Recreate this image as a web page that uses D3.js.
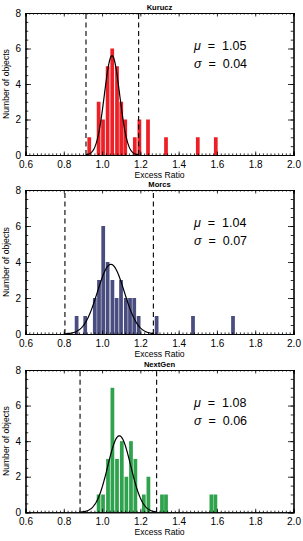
<!DOCTYPE html>
<html>
<head>
<meta charset="utf-8">
<script src="https://cdn.jsdelivr.net/npm/d3@7"></script>
<style>
  body { margin: 0; background: #fff; }
  svg { display: block; font-family: "Liberation Sans", Arial, sans-serif; }
  .tick-label { font-size: 10px; }
  .axis-title { font-size: 8.6px; }
  .panel-title { font-size: 7.6px; font-weight: bold; }
  .stat { font-size: 12.5px; }
</style>
</head>
<body>
<svg id="chart" width="303" height="541"></svg>
<script>
// values
var titles = ["Kurucz", "Morcs", "NextGen"];
var barColors = ["#ec2027", "#4a4d7f", "#2ea24c"];

var kuruczBins   = [0.933, 0.982, 1.005, 1.029, 1.053, 1.078, 1.100, 1.121, 1.171, 1.195, 1.240, 1.334, 1.500, 1.594];
var kuruczCounts = [1, 3, 2, 5, 6, 5, 3, 2, 1, 2, 2, 1, 1, 1];

var marcsBins   = [0.867, 0.912, 0.962, 0.984, 1.006, 1.029, 1.054, 1.076, 1.099, 1.124, 1.146, 1.168, 1.191, 1.285, 1.475, 1.684];
var marcsCounts = [1, 1, 2, 3, 6, 4, 3, 2, 3, 2, 2, 2, 1, 1, 1, 1];

var nextgenBins   = [0.982, 1.005, 1.031, 1.054, 1.078, 1.103, 1.127, 1.151, 1.174, 1.218, 1.242, 1.313, 1.334, 1.571, 1.592];
var nextgenCounts = [1, 1, 3, 7, 3, 4, 2, 4, 3, 1, 2, 1, 1, 1, 1];

var binWidth = 0.0232;

// gaussian fit shown in each panel
var fitMu    = [1.052, 1.046, 1.090];
var fitSigma = [0.040, 0.070, 0.060];
var fitPeak  = [5.6, 3.87, 4.3];
var muLabels    = ["1.05", "1.04", "1.08"];
var sigmaLabels = ["0.04", "0.07", "0.06"];

// dashed cut lines
var cutLow  = [0.916, 0.806, 0.885];
var cutHigh = [1.191, 1.268, 1.285];

var xTicks = [0.6, 0.8, 1.0, 1.2, 1.4, 1.6, 1.8, 2.0];
var yTicks = [0, 2, 4, 6, 8];

var bins = [kuruczBins, marcsBins, nextgenBins];
var counts = [kuruczCounts, marcsCounts, nextgenCounts];

var svg = d3.select("#chart");
var left = 25.5, right = 293.5;
var tops = [13, 190, 370], bottoms = [155, 334, 512.3];

var x = d3.scaleLinear().domain([0.6, 2.0]).range([left, right]);

titles.forEach(function(title, i) {
  var y = d3.scaleLinear().domain([0, 8]).range([bottoms[i], tops[i]]);
  var g = svg.append("g");
  var data = bins[i].map(function(b, j) { return {x: b, n: counts[i][j]}; });

  // bars
  g.selectAll(".bar")
    .data(data)
    .enter().append("rect")
      .attr("class", "bar")
      .attr("x", function(d) { return x(d.x - binWidth / 2) + 0.35; })
      .attr("y", function(d) { return y(d.n); })
      .attr("width", x(binWidth) - x(0) - 0.7)
      .attr("height", function(d) { return y(0) - y(d.n); })
      .attr("fill", barColors[i]);

  // dashed cuts
  [cutLow[i], cutHigh[i]].forEach(function(c) {
    g.append("line")
      .attr("x1", x(c)).attr("x2", x(c))
      .attr("y1", y(0)).attr("y2", y(8))
      .attr("stroke", "#000")
      .attr("stroke-width", 1.1)
      .style("stroke-dasharray", "5,3.5");
  });

  // gaussian fit
  var pts = d3.range(cutLow[i], cutHigh[i] + 0.0001, 0.002).map(function(v) {
    var z = (v - fitMu[i]) / fitSigma[i];
    return [v, fitPeak[i] * Math.exp(-0.5 * z * z)];
  });
  g.append("path")
    .datum(pts)
    .attr("fill", "none")
    .attr("stroke", "#000")
    .attr("stroke-width", 1.2)
    .attr("d", d3.line()
      .x(function(d) { return x(d[0]); })
      .y(function(d) { return y(d[1]); }));

  // box axes, ticks inward on all four sides
  g.append("g")
    .attr("transform", "translate(0," + bottoms[i] + ")")
    .call(d3.axisBottom(x).tickValues(d3.range(0.6, 2.0001, 0.02)).tickSize(-1.6).tickFormat(""));
  g.append("g")
    .attr("transform", "translate(0," + bottoms[i] + ")")
    .call(d3.axisBottom(x).tickValues(xTicks).tickSize(-3.5).tickPadding(5.4)
      .tickFormat(d3.format(".1f")))
    .selectAll("text").attr("class", "tick-label").attr("dy", "0.71em");
  g.append("g")
    .attr("transform", "translate(0," + tops[i] + ")")
    .call(d3.axisTop(x).tickValues(d3.range(0.6, 2.0001, 0.02)).tickSize(-1.6).tickFormat(""));
  g.append("g")
    .attr("transform", "translate(0," + tops[i] + ")")
    .call(d3.axisTop(x).tickValues(xTicks).tickSize(-3.5).tickFormat(""));

  g.append("g")
    .attr("transform", "translate(" + left + ",0)")
    .call(d3.axisLeft(y).tickValues(d3.range(0, 8.01, 0.5)).tickSize(-2.8).tickFormat(""));
  g.append("g")
    .attr("transform", "translate(" + left + ",0)")
    .call(d3.axisLeft(y).tickValues(yTicks).tickSize(-5.5).tickPadding(4.5).tickFormat(d3.format("d")))
    .selectAll("text").attr("class", "tick-label");
  g.append("g")
    .attr("transform", "translate(" + right + ",0)")
    .call(d3.axisRight(y).tickValues(d3.range(0, 8.01, 0.5)).tickSize(-2.8).tickFormat(""));
  g.append("g")
    .attr("transform", "translate(" + right + ",0)")
    .call(d3.axisRight(y).tickValues(yTicks).tickSize(-5.5).tickFormat(""));

  g.selectAll(".domain").attr("stroke", "#000").attr("stroke-width", 1.1);
  g.selectAll(".tick line").attr("stroke", "#000").attr("stroke-width", 0.8);
  g.selectAll(".tick text").attr("fill", "#000");

  // texts
  g.append("text")
    .attr("class", "panel-title")
    .attr("x", (left + right) / 2)
    .attr("y", tops[i] - 3.5)
    .attr("text-anchor", "middle")
    .text(title);

  g.append("text")
    .attr("class", "axis-title")
    .attr("x", (left + right) / 2)
    .attr("y", bottoms[i] + 22.5)
    .attr("text-anchor", "middle")
    .text("Excess Ratio");

  g.append("text")
    .attr("class", "axis-title")
    .attr("transform", "translate(9," + ((tops[i] + bottoms[i]) / 2) + ") rotate(-90)")
    .attr("text-anchor", "middle")
    .text("Number of objects");

  var mu = g.append("text")
    .attr("class", "stat")
    .attr("x", 194)
    .attr("y", tops[i] + 36.5)
    .attr("xml:space", "preserve");
  mu.append("tspan").style("font-style", "italic").text("\u03bc");
  mu.append("tspan").text("  =  " + muLabels[i]);

  var sg = g.append("text")
    .attr("class", "stat")
    .attr("x", 194)
    .attr("y", tops[i] + 54.5)
    .attr("xml:space", "preserve");
  sg.append("tspan").style("font-style", "italic").text("\u03c3");
  sg.append("tspan").text("  =  " + sigmaLabels[i]);
});
</script>
</body>
</html>
